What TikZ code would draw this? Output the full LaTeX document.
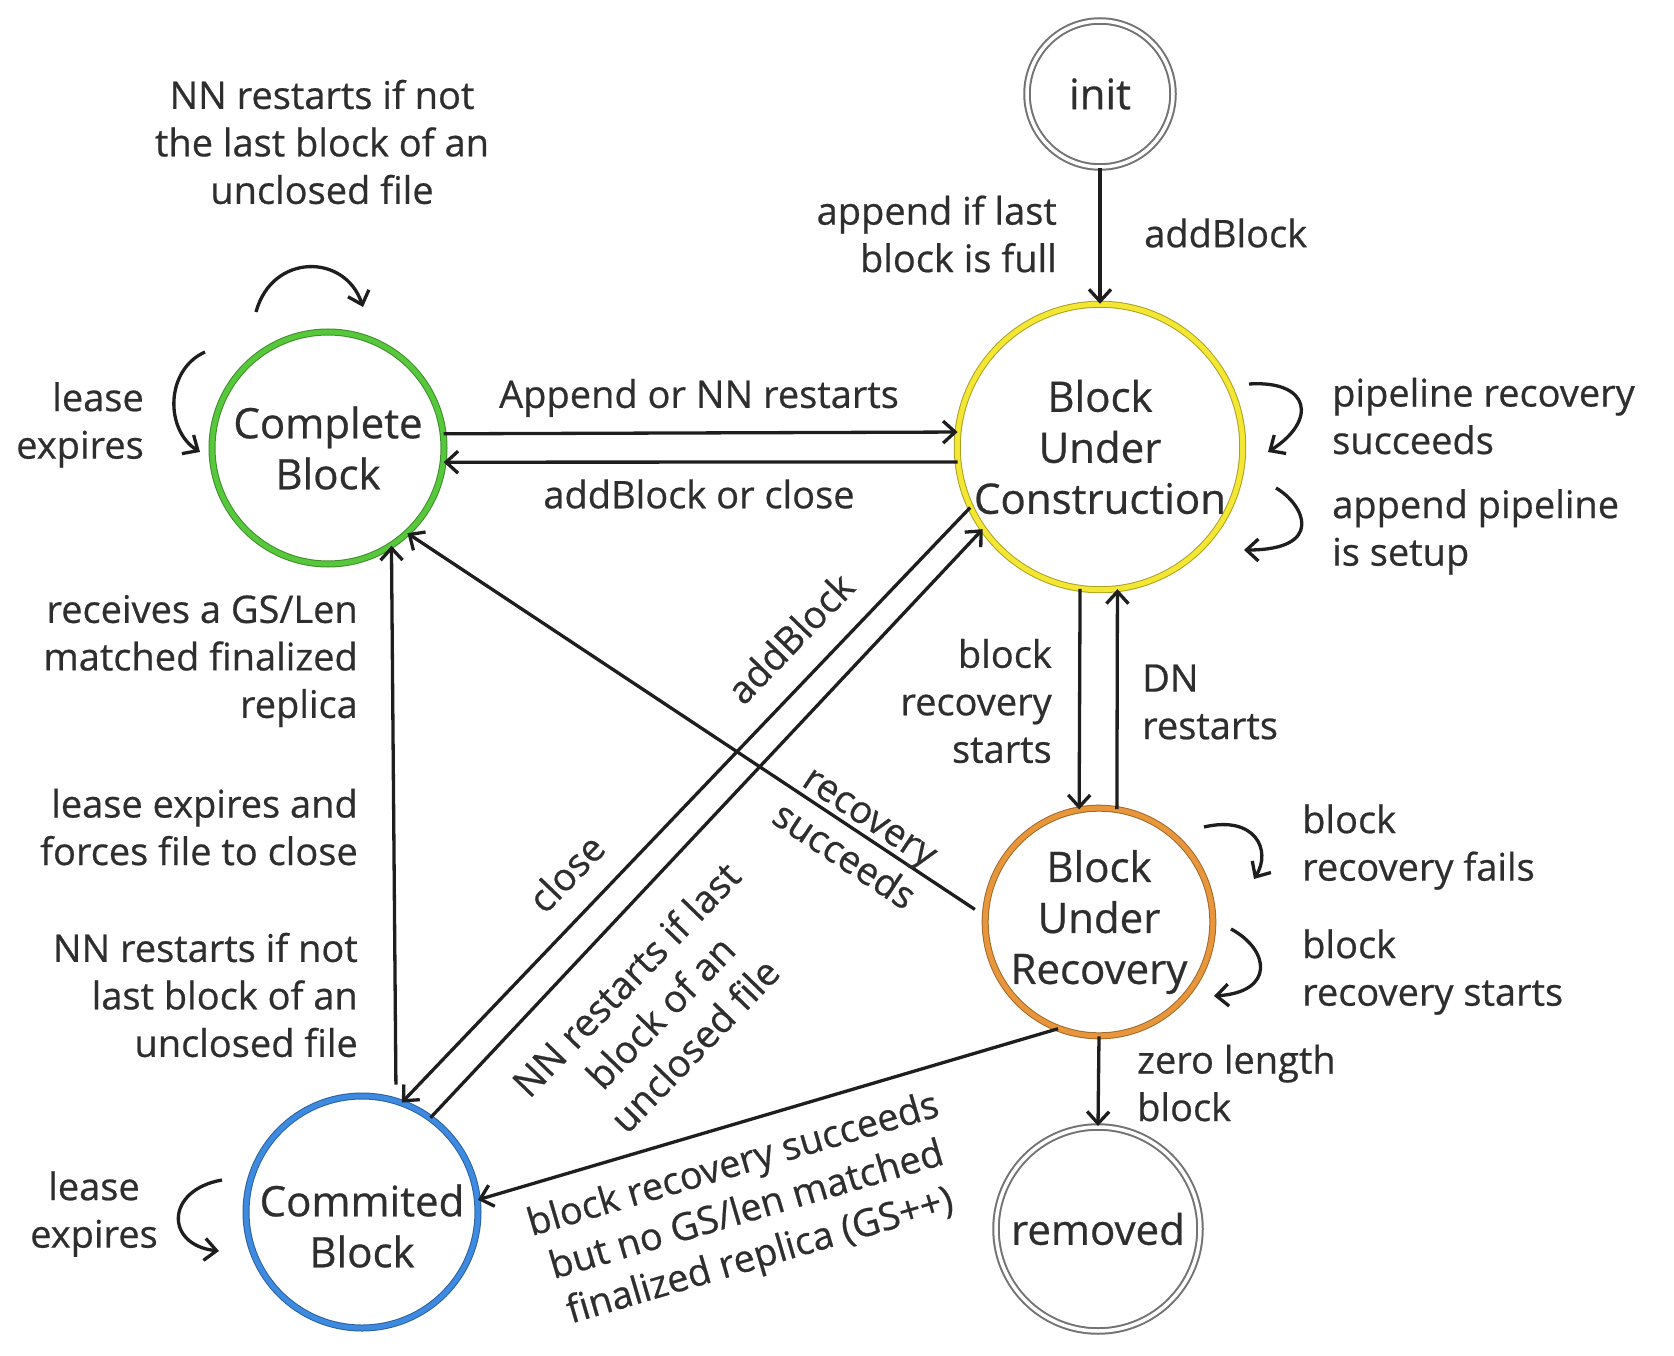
\documentclass[tikz,border=0pt]{standalone}
\usepackage{fontspec}
\setmainfont{Open Sans}[FakeBold=0.6]
\newfontfamily\lblfont{Open Sans}[FakeBold=0.6]
\usetikzlibrary{arrows.meta}
\definecolor{txt}{HTML}{2E2E2E}
\definecolor{lin}{HTML}{1E1E1E}
\definecolor{grn}{HTML}{57C83C}
\definecolor{ylw}{HTML}{F3E733}
\definecolor{org}{HTML}{E8963C}
\definecolor{blu}{HTML}{3D8AE0}
\tikzset{
  lbl/.style={font=\lblfont\fontsize{38}{47.5}\selectfont, text=txt, inner sep=0pt},
  st/.style={circle, font=\lblfont\fontsize{42}{51}\selectfont, text=txt, align=center, inner sep=0pt},
  ring/.style={draw=#1!70!black, line width=1pt, double=#1, double distance=5pt},
  term/.style={draw=black!55, line width=2pt, double=white, double distance=3.5pt},
  conn/.style={draw=lin, line width=3.3pt, -{Straight Barb[length=12pt,width=22pt]}},
}
\begin{document}
\begin{tikzpicture}[x=1pt,y=-1pt]
\useasboundingbox (0,0) rectangle (1674,1356);

% states
\node[st, term, minimum size=146pt] (init) at (1100,94) {init};
\node[st, ring=ylw, minimum size=282pt] (buc) at (1100,447) {Block\\Under\\Construction};
\node[st, ring=grn, minimum size=232pt] (cb) at (328,448) {Complete\\Block};
\node[st, ring=org, minimum size=220pt] (bur) at (1099,922) {Block\\Under\\Recovery};
\node[st, ring=blu, minimum size=232pt] (com) at (362,1212) {};
\node[st] (comt) at (362,1226) {Commited\\Block};
\node[st, term, minimum size=204pt] (rem) at (1098,1229) {removed};

% main connectors
\draw[conn] (init.south) -- (buc.north);
\draw[conn] (cb.7) -- (buc.174);
\draw[conn] (buc.186) -- (cb.353);
\draw[conn] (buc.262) -- (bur.100);
\draw[conn] (bur.81) -- (buc.277);
\draw[conn] (bur.south) -- (rem.north);
\draw[conn, shorten <=12pt] (bur.177) -- (cb.-47);
\draw[conn] (buc.205) -- (com.70);
\draw[conn] (com.54) -- (buc.215);
\draw[conn] (bur.249) -- (com.6);
\draw[conn, shorten <=16pt] (com.73) -- (cb.-57);

% self loops
\coordinate (l1a) at (256,312); \coordinate (l1b) at (363,307);
\draw[conn] (l1a) .. controls (272,253) and (345,253) .. (l1b);
\coordinate (l2a) at (205,352); \coordinate (l2b) at (200,452);
\draw[conn] (l2a) .. controls (165,370) and (165,430) .. (l2b);
\coordinate (l3a) at (1249,384); \coordinate (l3b) at (1268,452);
\draw[conn] (l3a) .. controls (1310,380) and (1318,420) .. (l3b);
\coordinate (l4a) at (1276,488); \coordinate (l4b) at (1244,550);
\draw[conn] (l4a) .. controls (1305,505) and (1325,550) .. (l4b);
\coordinate (l5a) at (1204,827); \coordinate (l5b) at (1254,879);
\draw[conn] (l5a) .. controls (1255,815) and (1272,850) .. (l5b);
\coordinate (l6a) at (1231,929); \coordinate (l6b) at (1214,996);
\draw[conn] (l6a) .. controls (1270,950) and (1275,992) .. (l6b);
\coordinate (l7a) at (222,1180); \coordinate (l7b) at (219,1251);
\draw[conn] (l7a) .. controls (165,1190) and (165,1245) .. (l7b);

% labels
\node[lbl, align=center] (t1) at (322,142) {NN restarts if not\\the last block of an\\unclosed file};
\node[lbl, align=right, anchor=east] (t2) at (144,425) {lease\\expires};
\node[lbl] (t3) at (699,398) {Append or NN restarts};
\node[lbl] (t4) at (699,494) {addBlock or close};
\node[lbl, align=right, anchor=east] (t5) at (1057,234) {append if last\\block is full};
\node[lbl, anchor=west] (t6) at (1144,233) {addBlock};
\node[lbl, align=left, anchor=west] (t7) at (1332,416) {pipeline recovery\\succeeds};
\node[lbl, align=left, anchor=west] (t8) at (1332,532) {append pipeline\\is setup};
\node[lbl, align=right, anchor=east] (t9) at (1052,701) {block\\recovery\\starts};
\node[lbl, align=left, anchor=west] (t10) at (1142,702) {DN\\restarts};
\node[lbl, align=left, anchor=west] (t11) at (1302,847) {block\\recovery fails};
\node[lbl, align=left, anchor=west] (t12) at (1302,972) {block\\recovery starts};
\node[lbl, align=left, anchor=west] (t13) at (1137,1083) {zero length\\block};
\node[lbl, align=right, anchor=east] (t14) at (358,661) {receives a GS/Len\\matched finalized\\replica};
\node[lbl, align=right, anchor=east] (t15) at (358,827) {lease expires and\\forces file to close};
\node[lbl, align=right, anchor=east] (t16) at (358,995) {NN restarts if not\\last block of an\\unclosed file};
\node[lbl, align=center] (t17) at (94,1214) {lease\\expires};
\node[lbl, rotate=46] (t18) at (790,638) {addBlock};
\node[lbl, rotate=46] (t19) at (566,873) {close};
\node[lbl, rotate=46, align=center] (t20) at (660,1012) {NN restarts if last\\block of an\\unclosed file};
\node[lbl, rotate=-33.5, align=center] (t21) at (856,838) {recovery\\succeeds};
\node[lbl, rotate=16.4, align=center] (t22) at (747,1212) {block recovery succeeds\\but no GS/len matched\\finalized replica (GS++)};
\end{tikzpicture}
\end{document}
